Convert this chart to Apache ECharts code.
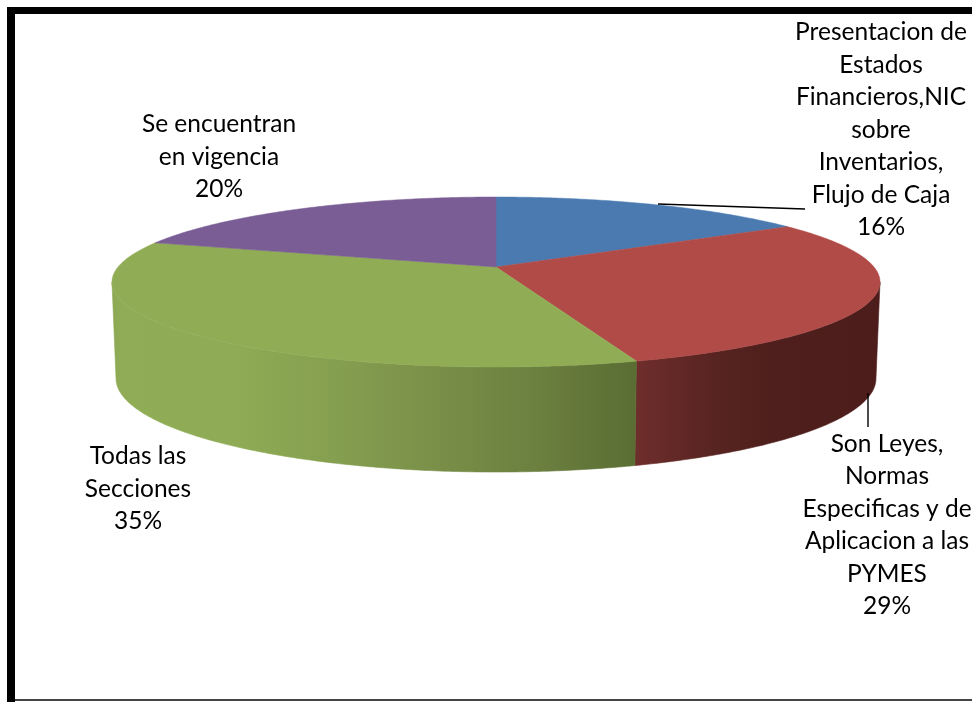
<!DOCTYPE html>
<html>
<head>
<meta charset="utf-8">
<style>html,body{margin:0;padding:0;background:#fff}#main{width:972px;height:702px}</style>
<script src="https://cdn.jsdelivr.net/npm/echarts@6/dist/echarts.min.js"></script>
</head>
<body>
<div id="main"></div>
<script>
// Categories and their shares, in clockwise order from twelve o'clock
const categories = [
  'Presentacion de\nEstados\nFinancieros,NIC\nsobre\nInventarios,\nFlujo de Caja',
  'Son Leyes,\nNormas\nEspecificas y de\nAplicacion a las\nPYMES',
  'Todas las\nSecciones',
  'Se encuentran\nen vigencia'
];
const shares = [16, 29, 35, 20];

// Slice colours: the flat top face and the shaded wall stops (global x in px)
const topColors = ['#4a7ab0', '#b04b48', '#90ad56', '#795d94'];
const wallStops = [
  null,
  [[636, '#6e2e2c'], [705, '#5a2522'], [770, '#4e1f1c'], [880, '#4c1d1b']],
  [[112, '#8ca853'], [122, '#90ad56'], [235, '#8fab55'], [335, '#859f50'], [425, '#7b9149'], [540, '#6b7f3f'], [636, '#5a6d33']],
  null
];

// Label placement (centre of the text block) and leader segments
const labelCentres = [[881, 130], [887, 525], [138, 489], [219, 157]];
const leaders = [[[658, 204], [805, 209]], [[868, 393], [868, 427]], null, null];

// Perspective disc: k is the foreshortening from the tilted view
const topFace = { cx: 496, cy: 267, fx: 378, fy: 82.35, k: 0.1765 };
const baseFace = { cx: 496, cy: 362, fx: 374, fy: 90.6, k: 0.1765 };

function project(face, theta) {
  const d = 1 + face.k * Math.cos(theta);
  return [
    face.cx + face.fx * Math.sin(theta) / d,
    face.cy - face.fy * Math.cos(theta) / d
  ];
}

function arc(face, from, to) {
  const steps = Math.max(2, Math.ceil(Math.abs(to - from) / 0.01));
  const pts = [];
  for (let i = 0; i <= steps; i++) {
    pts.push(project(face, from + (to - from) * i / steps));
  }
  return pts;
}

const total = shares.reduce((a, b) => a + b, 0);
const wallFrom = Math.acos(-topFace.k);
const wallTo = 2 * Math.PI - wallFrom;

function renderSlice(params, api) {
  const idx = params.dataIndex;
  let before = 0;
  for (let i = 0; i < idx; i++) before += shares[i];
  const start = before / total * 2 * Math.PI;
  const end = (before + api.value(0)) / total * 2 * Math.PI;
  const children = [];

  const color = topColors[idx];
  children.push({
    type: 'polygon',
    z2: 2,
    shape: { points: [[topFace.cx, topFace.cy]].concat(arc(topFace, start, end)) },
    style: { fill: color, stroke: color, lineWidth: 0.5 }
  });

  const a = Math.max(start, wallFrom);
  const b = Math.min(end, wallTo);
  if (b > a && wallStops[idx]) {
    const stops = wallStops[idx];
    const x0 = stops[0][0];
    const x1 = stops[stops.length - 1][0];
    const fill = new echarts.graphic.LinearGradient(
      x0, 0, x1, 0,
      stops.map(s => ({ offset: (s[0] - x0) / (x1 - x0), color: s[1] })),
      true
    );
    children.push({
      type: 'polygon',
      z2: 1,
      shape: { points: arc(topFace, a, b).concat(arc(baseFace, b, a)) },
      style: { fill: fill, stroke: fill, lineWidth: 0.6 }
    });
  }

  if (leaders[idx]) {
    const seg = leaders[idx];
    children.push({
      type: 'line',
      z2: 3,
      shape: { x1: seg[0][0], y1: seg[0][1], x2: seg[1][0], y2: seg[1][1] },
      style: { stroke: '#000', lineWidth: 1.4 }
    });
  }

  children.push({
    type: 'text',
    z2: 4,
    x: labelCentres[idx][0],
    y: labelCentres[idx][1],
    style: {
      text: categories[idx] + '\n' + api.value(0) + '%',
      fontFamily: 'Lato',
      fontSize: 24.5,
      lineHeight: 32.5,
      fill: '#000',
      align: 'center',
      verticalAlign: 'middle'
    }
  });

  return { type: 'group', children: children };
}

const chart = echarts.init(document.getElementById('main'), null, { renderer: 'canvas' });
chart.setOption({
  animation: false,
  backgroundColor: '#fff',
  graphic: [
    { type: 'rect', z: 10, shape: { x: 7, y: 7, width: 8, height: 695 }, style: { fill: '#000' } },
    { type: 'rect', z: 10, shape: { x: 7, y: 7, width: 965, height: 7 }, style: { fill: '#000' } },
    { type: 'rect', z: 10, shape: { x: 15, y: 699, width: 957, height: 2 }, style: { fill: '#444' } }
  ],
  series: [{
    type: 'custom',
    coordinateSystem: 'none',
    silent: true,
    renderItem: renderSlice,
    data: shares.map(v => [v])
  }]
});
</script>
</body>
</html>
